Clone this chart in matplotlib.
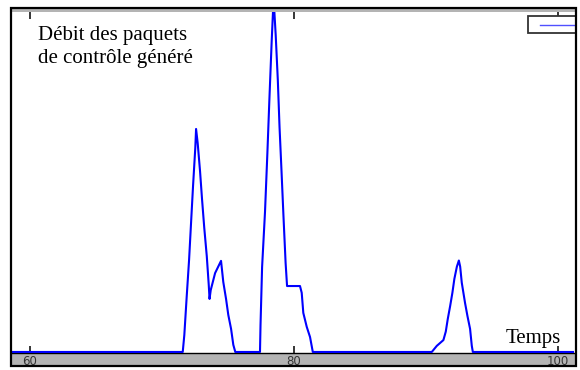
import matplotlib
matplotlib.use("Agg")
import matplotlib.pyplot as plt
from matplotlib.patches import Rectangle
from matplotlib.lines import Line2D

# time (s) and generated control-packet rate (arbitrary units, 100 = top of frame)
temps = [58.6, 71.57, 71.69, 71.87, 72.05, 72.20, 72.35, 72.52, 72.58, 72.70,
         72.88, 73.03, 73.20, 73.39, 73.54, 73.60, 73.69, 74.02, 74.47, 74.64,
         74.85, 75.02, 75.23, 75.40, 75.55,
         77.42, 77.46, 77.58, 77.80, 77.98, 78.13, 78.31, 78.45, 78.61, 78.77,
         78.90, 79.05, 79.20, 79.36, 79.47, 80.45, 80.58, 80.70, 80.96, 81.21,
         81.42,
         90.43, 90.81, 91.31, 91.49, 91.64, 91.82, 91.99, 92.14, 92.33, 92.48,
         92.58, 92.70, 92.95, 93.13, 93.33, 93.46, 93.54, 101.3]
debit = [0, 0, 5.0, 16.3, 27.1, 38.0, 48.8, 60.0, 65.6, 61.5,
         53.2, 45.0, 36.5, 28.2, 19.7, 15.6, 18.2, 23.2, 26.8, 20.6,
         15.6, 10.9, 6.8, 2.1, 0,
         0, 7.9, 25.0, 41.2, 58.5, 74.1, 91.8, 104.0, 93.2, 80.0,
         66.2, 53.2, 39.8, 26.2, 19.4, 19.4, 17.4, 11.5, 7.4, 4.4,
         0,
         0, 1.8, 3.5, 6.0, 9.7, 13.5, 17.4, 21.5, 25.1, 26.9,
         25.1, 20.4, 14.4, 10.6, 6.8, 1.8, 0, 0]

xticks = [60, 80, 100]
xtick_labels = ["60", "80", "100"]

W, H = 580, 370
fig = plt.figure(figsize=(W / 100, H / 100), dpi=100)


def fx(px):
    return px / W


def fy(py):
    return 1 - py / H


# grey bands (behind the axes)
fig.patches.append(Rectangle((fx(11), fy(365)), fx(576) - fx(11), 12 / H,
                             transform=fig.transFigure, facecolor="#b4b4b4",
                             edgecolor="none", zorder=-2))
fig.patches.append(Rectangle((fx(11), fy(12)), fx(576) - fx(11), 3 / H,
                             transform=fig.transFigure, facecolor="#b4b4b4",
                             edgecolor="none", zorder=-2))

ax = fig.add_axes([fx(12), fy(353), fx(574) - fx(12), 341 / H])
ax.set_facecolor("white")
ax.plot(temps, debit, color="#0000ff", lw=1.5, zorder=5)
ax.set_xlim(58.64, 101.2)
ax.set_ylim(-0.3, 100)
ax.set_yticks([])
ax.set_xticks(xticks)
ax.set_xticklabels(xtick_labels, fontsize=8.5, color="#333333",
                   family="DejaVu Sans")
ax.tick_params(axis="x", direction="in", length=5, width=1.1, color="black",
               top=True, pad=1.5)
for s in ["top", "left", "right"]:
    ax.spines[s].set_visible(False)
ax.spines["bottom"].set_color("black")
ax.spines["bottom"].set_linewidth(1)

# clipped legend box at top right
fig.patches.append(Rectangle((fx(528), fy(33)), fx(600) - fx(528), 17 / H,
                             transform=fig.transFigure, facecolor="white",
                             edgecolor="#333333", lw=1.3, zorder=6))
fig.lines.append(Line2D([fx(540), fx(574)], [fy(25), fy(25)],
                        transform=fig.transFigure, color="#5050ff", lw=1, zorder=7))

# cover the box overflow on the right, then the outer frame
fig.patches.append(Rectangle((fx(577), 0), 1 - fx(577), 1,
                             transform=fig.transFigure, facecolor="white",
                             edgecolor="none", zorder=9))
fig.patches.append(Rectangle((fx(11), fy(366)), fx(576) - fx(11), 358 / H,
                             transform=fig.transFigure, fill=False,
                             edgecolor="black", lw=1.6, zorder=10))

fig.text(fx(38), fy(26), "Débit des paquets\nde contrôle généré",
         family="Liberation Serif", fontsize=15, va="top", ha="left",
         linespacing=1.3)
fig.text(fx(561), fy(343), "Temps", family="Liberation Serif", fontsize=15,
         va="baseline", ha="right")

fig.savefig("out.png", dpi=100)
